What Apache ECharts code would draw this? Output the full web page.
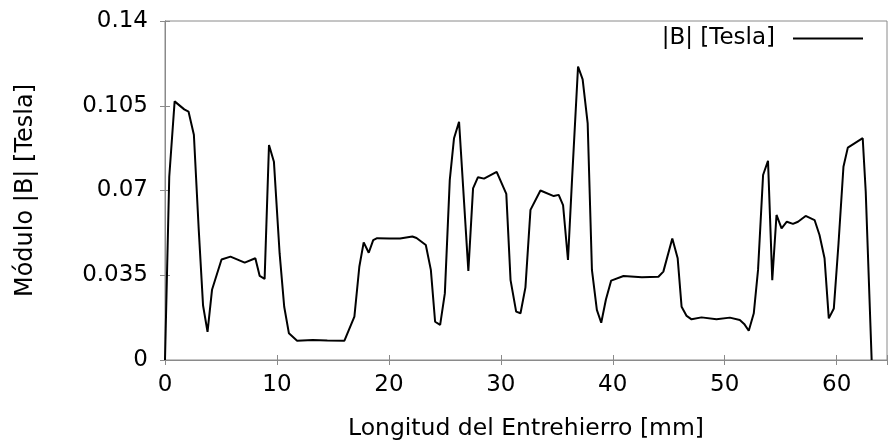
<!DOCTYPE html>
<html>
<head>
<meta charset="utf-8">
<script src="https://cdn.jsdelivr.net/npm/echarts@6/dist/echarts.min.js"></script>
<style>html,body{margin:0;padding:0;background:#fff;}#c{width:890px;height:448px;}</style>
</head>
<body>
<div id="c"></div>
<script>
// Position along the air gap [mm]
var xs = [0, 0.38, 0.86, 1.72, 2.1, 2.58, 3.0, 3.4, 3.8, 4.2, 5.05, 5.85, 7.12, 8.07, 8.46, 8.9, 9.29, 9.73, 10.24, 10.65, 11.07, 11.8, 13.2, 14.5, 16.03, 16.92, 17.36, 17.75, 18.2, 18.6, 18.95, 20.04, 21.0, 22.1, 22.47, 23.3, 23.75, 24.13, 24.58, 25.0, 25.44, 25.82, 26.27, 27.1, 27.52, 27.96, 28.5, 29.63, 30.49, 30.87, 31.37, 31.76, 32.2, 32.65, 33.54, 34.73, 35.17, 35.56, 36.0, 36.36, 36.9, 37.31, 37.76, 38.14, 38.58, 38.97, 39.39, 39.86, 40.96, 42.6, 44.08, 44.52, 45.32, 45.8, 46.15, 46.6, 47.04, 47.93, 49.27, 50.46, 51.35, 51.74, 52.15, 52.6, 52.98, 53.43, 53.87, 54.25, 54.63, 55.08, 55.55, 56.1, 56.55, 57.23, 58.03, 58.47, 58.92, 59.3, 59.75, 60.17, 60.61, 61.0, 62.33, 62.6, 63.13];
// |B| [Tesla]
var bs = [0, 0.0757, 0.1068, 0.1035, 0.1026, 0.093, 0.055, 0.0225, 0.0116, 0.029, 0.0415, 0.0427, 0.0402, 0.042, 0.0347, 0.0335, 0.0888, 0.0819, 0.044, 0.022, 0.011, 0.008, 0.0083, 0.0081, 0.008, 0.0179, 0.0385, 0.0486, 0.0443, 0.0495, 0.0503, 0.0502, 0.0502, 0.051, 0.0504, 0.0475, 0.0372, 0.0158, 0.0145, 0.0275, 0.0743, 0.0916, 0.0984, 0.0368, 0.0709, 0.0755, 0.0749, 0.0777, 0.0686, 0.033, 0.02, 0.0193, 0.03, 0.062, 0.07, 0.0677, 0.0682, 0.064, 0.0413, 0.0743, 0.1212, 0.1159, 0.0977, 0.0372, 0.0207, 0.0154, 0.025, 0.0328, 0.0347, 0.0342, 0.0344, 0.0365, 0.0502, 0.042, 0.022, 0.0182, 0.0168, 0.0176, 0.0168, 0.0175, 0.0165, 0.0149, 0.0121, 0.0193, 0.0372, 0.0764, 0.0823, 0.033, 0.0599, 0.0544, 0.0571, 0.0562, 0.0571, 0.0595, 0.0578, 0.0516, 0.042, 0.0172, 0.0213, 0.0482, 0.0798, 0.0877, 0.0916, 0.0695, 0];
var yTicks = [0, 0.035, 0.07, 0.105, 0.14];
var seriesName = '|B| [Tesla]';
var xName = 'Longitud del Entrehierro [mm]';
var yName = 'Módulo |B| [Tesla]';

var pts = xs.map(function (x, i) { return [x, bs[i]]; });
var tickFont = 'DejaVu Sans';
var borderColor = '#8a8a8a';

var chart = echarts.init(document.getElementById('c'), null, {renderer: 'canvas'});
chart.setOption({
  animation: false,
  backgroundColor: '#fff',
  grid: {left: 165, right: 1, top: 21, bottom: 88, show: true, borderColor: borderColor, borderWidth: 1},
  legend: {
    data: [seriesName], right: 27, top: 27, padding: 0, align: 'right',
    icon: 'rect', itemWidth: 70, itemHeight: 2,
    textStyle: {fontFamily: tickFont, fontSize: 23, color: '#000', padding: [6, 13, 0, 0]}
  },
  xAxis: [{
    type: 'value', min: 0, max: 64.5, interval: 10,
    name: xName, nameLocation: 'middle', nameGap: 57,
    nameTextStyle: {fontFamily: tickFont, fontSize: 23.5, color: '#000'},
    axisLine: {show: true, lineStyle: {color: borderColor, width: 1}},
    axisTick: {show: true, inside: true, length: 5, lineStyle: {color: borderColor}},
    axisLabel: {fontFamily: tickFont, fontSize: 23, color: '#000', margin: 14,
      formatter: function (v) { return v % 10 === 0 ? String(v) : ''; }},
    splitLine: {show: false}
  }, {
    type: 'value', min: 0, max: 64.5, interval: 10, position: 'top',
    axisLine: {show: true, lineStyle: {color: borderColor, width: 1}},
    axisTick: {show: true, inside: true, length: 5, lineStyle: {color: borderColor}},
    axisLabel: {show: false}, splitLine: {show: false}
  }],
  yAxis: [{
    type: 'value', min: yTicks[0], max: yTicks[yTicks.length - 1], interval: 0.035,
    name: yName, nameLocation: 'middle', nameGap: 127, nameRotate: 90,
    nameTextStyle: {fontFamily: tickFont, fontSize: 24, color: '#000'},
    axisLine: {show: true, lineStyle: {color: borderColor, width: 1}},
    axisTick: {show: true, inside: true, length: 5, lineStyle: {color: borderColor}},
    axisLabel: {fontFamily: tickFont, fontSize: 23, color: '#000', margin: 17},
    splitLine: {show: false}
  }, {
    type: 'value', min: yTicks[0], max: yTicks[yTicks.length - 1], interval: 0.035, position: 'right',
    axisLine: {show: true, lineStyle: {color: borderColor, width: 1}},
    axisTick: {show: true, inside: true, length: 5, lineStyle: {color: borderColor}},
    axisLabel: {show: false}, splitLine: {show: false}
  }],
  series: [{
    name: seriesName, type: 'line', data: pts, symbol: 'none', showSymbol: false,
    lineStyle: {color: '#000', width: 2}, itemStyle: {color: '#000'}, smooth: false
  }]
});
</script>
</body>
</html>
